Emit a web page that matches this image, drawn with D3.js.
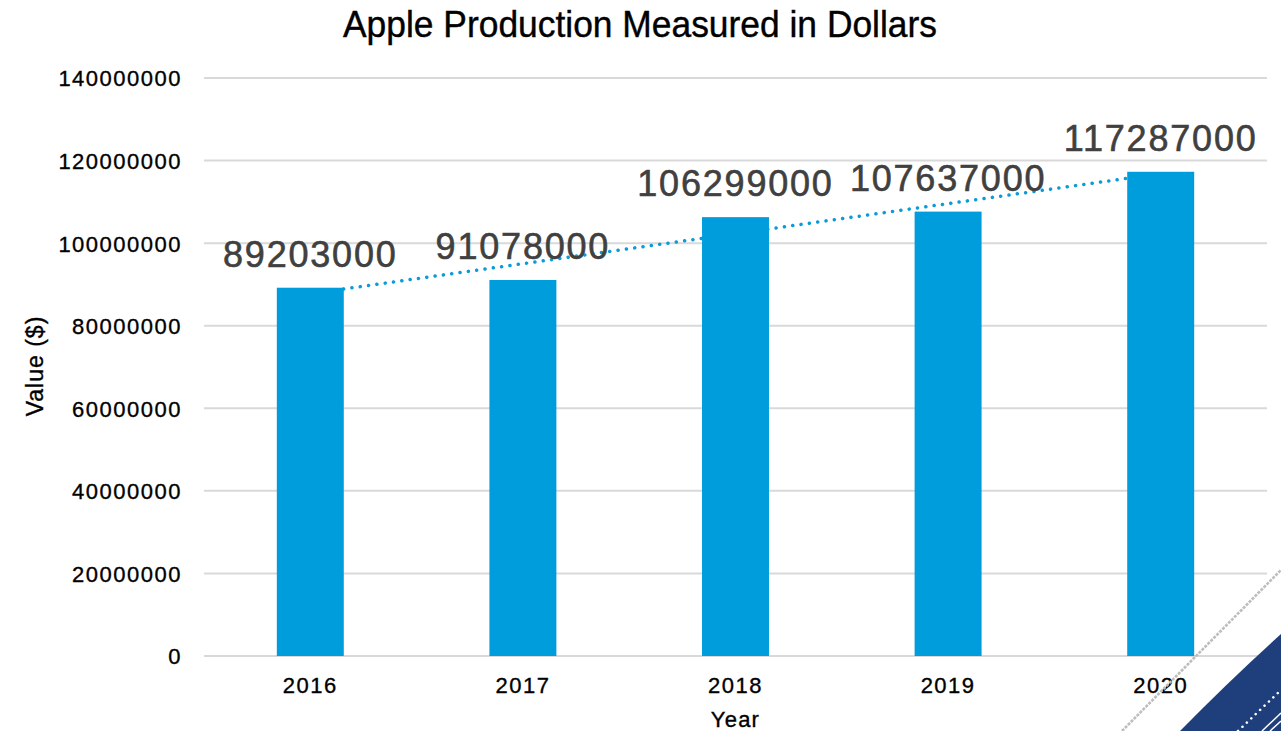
<!DOCTYPE html>
<html>
<head>
<meta charset="utf-8">
<script src="https://cdn.jsdelivr.net/npm/d3@7"></script>
<style>
  html, body { margin: 0; padding: 0; background: #fff; }
  svg { display: block; }
</style>
</head>
<body>
<svg id="chart" width="1281" height="731"></svg>
<script>
const years = ["2016", "2017", "2018", "2019", "2020"];
const values = [89203000, 91078000, 106299000, 107637000, 117287000];
const yTicks = [0, 20000000, 40000000, 60000000, 80000000, 100000000, 120000000, 140000000];
const titleText = "Apple Production Measured in Dollars";
const xTitle = "Year";
const yTitle = "Value ($)";

(function () {
const svg = d3.select("#chart");
const pLeft = 204, pRight = 1267, pTop = 78, pBottom = 656;

const x = d3.scaleBand().domain(years).range([pLeft, pRight]).paddingInner(0.685).paddingOuter(0.3425);
const y = d3.scaleLinear().domain([0, 140000000]).range([pBottom, pTop]);

// gridlines
svg.append("g").selectAll("line").data(yTicks).join("line")
  .attr("x1", pLeft).attr("x2", pRight)
  .attr("y1", d => y(d)).attr("y2", d => y(d))
  .attr("stroke", "#d9d9d9").attr("stroke-width", 2);

// y axis labels
const yAxis = d3.axisLeft(y).tickValues(yTicks).tickFormat(d3.format("d")).tickSize(0).tickPadding(22);
const gy = svg.append("g").attr("transform", `translate(${pLeft},0)`).call(yAxis);
gy.select(".domain").remove();
gy.selectAll("text").attr("font-family", "Liberation Sans, Arial, sans-serif")
  .attr("font-size", 22).attr("letter-spacing", "1.5px").attr("fill", "#000")
  .attr("stroke", "#000").attr("stroke-width", 0.35).attr("dy", "0.36em");

// x axis labels
const xAxis = d3.axisBottom(x).tickSize(0).tickPadding(21);
const gx = svg.append("g").attr("transform", `translate(0,${pBottom})`).call(xAxis);
gx.select(".domain").remove();
gx.selectAll("text").attr("font-family", "Liberation Sans, Arial, sans-serif")
  .attr("font-size", 22).attr("letter-spacing", "1.5px").attr("fill", "#000")
  .attr("stroke", "#000").attr("stroke-width", 0.35);

// trendline (linear regression), drawn behind bars
const n = values.length;
const xs = d3.range(n);
const mx = d3.mean(xs), my = d3.mean(values);
const slope = d3.sum(xs, i => (i - mx) * (values[i] - my)) / d3.sum(xs, i => (i - mx) ** 2);
const intercept = my - slope * mx;
const center = i => x(years[i]) + x.bandwidth() / 2;
svg.append("line")
  .attr("x1", center(0)).attr("y1", y(intercept))
  .attr("x2", center(n - 1)).attr("y2", y(intercept + slope * (n - 1)))
  .attr("stroke", "#0a9bd8").attr("stroke-width", 3.5)
  .attr("stroke-linecap", "round").attr("stroke-dasharray", "0.1 8.3");

// bars
svg.append("g").selectAll("rect").data(values).join("rect")
  .attr("x", (d, i) => x(years[i]))
  .attr("y", d => y(d))
  .attr("width", x.bandwidth())
  .attr("height", d => y(0) - y(d))
  .attr("fill", "#009ddc");

// data labels
svg.append("g").selectAll("text").data(values).join("text")
  .attr("x", (d, i) => center(i))
  .attr("y", d => y(d) - 21)
  .attr("text-anchor", "middle")
  .attr("font-family", "Liberation Sans, Arial, sans-serif")
  .attr("font-size", 36).attr("letter-spacing", "1.8px")
  .attr("fill", "#404040").attr("stroke", "#404040").attr("stroke-width", 0.6)
  .text(d => d);

// title
svg.append("text")
  .attr("x", 640).attr("y", 37)
  .attr("text-anchor", "middle")
  .attr("font-family", "Liberation Sans Narrow, Arial Narrow, Liberation Sans, sans-serif")
  .attr("font-size", 36)
  .attr("textLength", 594).attr("lengthAdjust", "spacingAndGlyphs")
  .attr("fill", "#000").attr("stroke", "#000").attr("stroke-width", 0.4)
  .text(titleText);

// axis titles
svg.append("text")
  .attr("x", x("2018") + x.bandwidth() / 2).attr("y", 727)
  .attr("text-anchor", "middle")
  .attr("font-family", "Liberation Sans, Arial, sans-serif")
  .attr("font-size", 22).attr("letter-spacing", "1.2px").attr("fill", "#000")
  .attr("stroke", "#000").attr("stroke-width", 0.35)
  .text(xTitle);

svg.append("text")
  .attr("transform", "translate(43,366) rotate(-90)")
  .attr("text-anchor", "middle")
  .attr("font-family", "Liberation Sans, Arial, sans-serif")
  .attr("font-size", 23).attr("letter-spacing", "1px").attr("fill", "#000")
  .attr("stroke", "#000").attr("stroke-width", 0.35)
  .text(yTitle);

// decorative corner
const deco = svg.append("g");
deco.append("path")
  .attr("d", "M1180,731 Q1230,680 1281,634 L1281,731 Z")
  .attr("fill", "#1f3f7c");
deco.append("line")
  .attr("x1", 1122).attr("y1", 731).attr("x2", 1281).attr("y2", 570)
  .attr("stroke", "#bdbdbd").attr("stroke-width", 2.6)
  .attr("stroke-dasharray", "3 1.2");
deco.append("line")
  .attr("x1", 1238).attr("y1", 731).attr("x2", 1281).attr("y2", 690)
  .attr("stroke", "#ffffff").attr("stroke-width", 2.5)
  .attr("stroke-linecap", "round").attr("stroke-dasharray", "0.1 6");
deco.append("line")
  .attr("x1", 1262).attr("y1", 731).attr("x2", 1281).attr("y2", 713)
  .attr("stroke", "#ffffff").attr("stroke-width", 1.5);
deco.append("line")
  .attr("x1", 1270).attr("y1", 731).attr("x2", 1281).attr("y2", 721)
  .attr("stroke", "#ffffff").attr("stroke-width", 1.5);
})();
</script>
</body>
</html>
